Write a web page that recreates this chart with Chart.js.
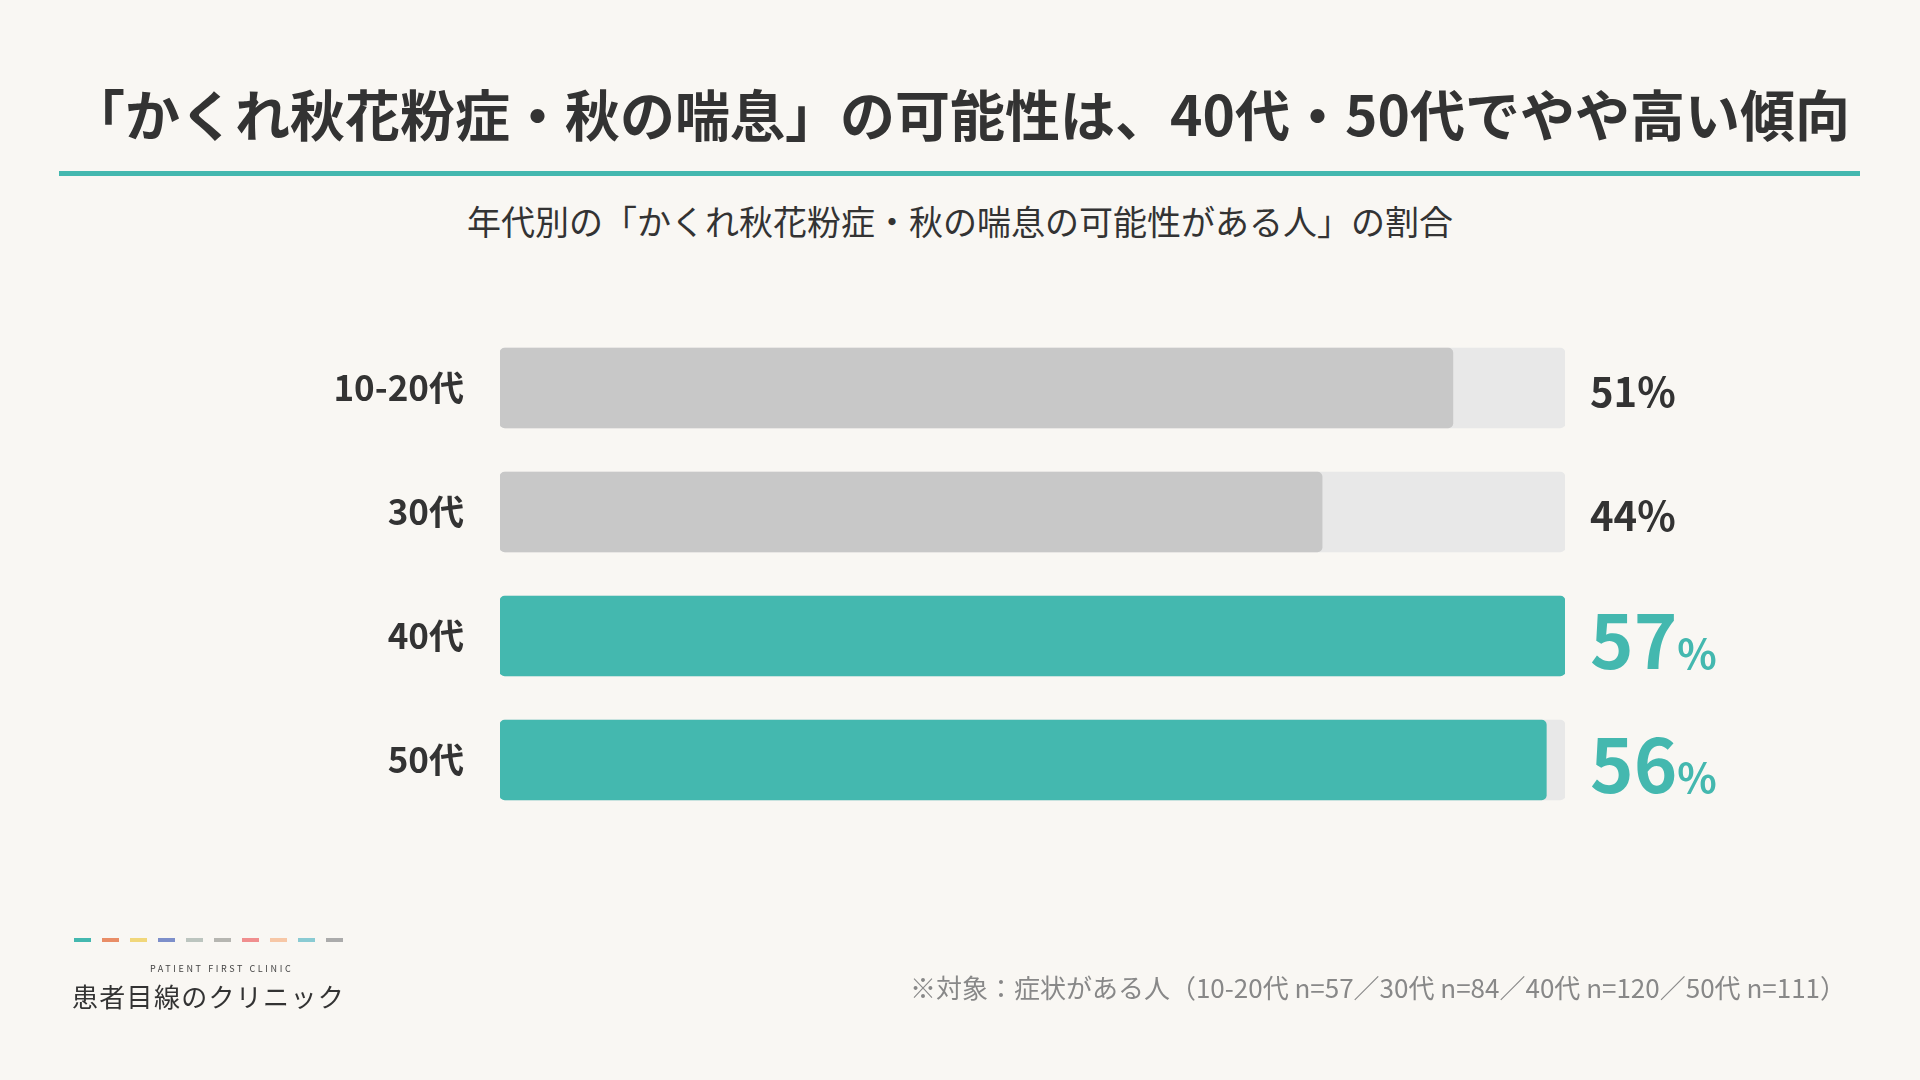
<!DOCTYPE html>
<html lang="ja">
<head>
<meta charset="utf-8">
<title>かくれ秋花粉症・秋の喘息</title>
<script src="https://cdn.jsdelivr.net/npm/chart.js@4.4.1/dist/chart.umd.min.js"></script>
<style>
  html, body { margin: 0; padding: 0; }
  body {
    width: 1920px; height: 1080px; overflow: hidden; position: relative;
    background: #f9f7f3; color: #333;
    font-family: "Noto Sans CJK JP", "Noto Sans", sans-serif;
  }
  .title {
    position: absolute; left: 0; width: 1920px; top: 80px;
    text-align: center; font-size: 55px; font-weight: 700; line-height: 64px;
  }
  .rule {
    position: absolute; left: 59px; width: 1801px; top: 171px; height: 5px;
    background: #44b8af;
  }
  .subtitle {
    position: absolute; left: 0; width: 1920px; top: 201px;
    text-align: center; font-size: 34px; line-height: 40px;
  }
  #wrap { position: absolute; left: 0; top: 0; width: 1920px; height: 1080px; }
  .note {
    position: absolute; right: 74px; top: 970px;
    font-size: 26px; line-height: 34px; color: #888;
  }
  .dashes { position: absolute; left: 74px; top: 938px; display: flex; gap: 11px; }
  .dashes span { width: 17px; height: 4px; display: block; }
  .brand-en {
    position: absolute; left: 150px; top: 963px;
    font-size: 9px; letter-spacing: 2.6px; color: #444; line-height: 12px;
  }
  .brand {
    position: absolute; left: 72px; top: 980px;
    font-size: 26px; letter-spacing: 1.3px; line-height: 32px; color: #333;
  }
</style>
</head>
<body>
<div class="title">「かくれ秋花粉症・秋の喘息」の可能性は、40代・50代でやや高い傾向</div>
<div class="rule"></div>
<div class="subtitle">年代別の「かくれ秋花粉症・秋の喘息の可能性がある人」の割合</div>
<div id="wrap"><canvas id="chart"></canvas></div>
<div class="note">※対象：症状がある人（10-20代 n=57／30代 n=84／40代 n=120／50代 n=111）</div>
<div class="dashes">
  <span style="background:#44b8af"></span>
  <span style="background:#e98d66"></span>
  <span style="background:#f1d77a"></span>
  <span style="background:#7d8fca"></span>
  <span style="background:#bcc5bf"></span>
  <span style="background:#b6b6b1"></span>
  <span style="background:#f08e8e"></span>
  <span style="background:#f7c7a6"></span>
  <span style="background:#8acbd3"></span>
  <span style="background:#ababab"></span>
</div>
<div class="brand-en">PATIENT FIRST CLINIC</div>
<div class="brand">患者目線のクリニック</div>

<script>
const categories = ['10-20代', '30代', '40代', '50代']
const values = [51, 44, 57, 56]
const highlighted = [false, false, true, true]

const teal = '#44b8af'
const grey = '#c8c8c8'
const trackColor = '#e8e8e8'
const textColor = '#333333'
const font = '"Noto Sans CJK JP", "Noto Sans", sans-serif'

const trackMax = Math.max(...values)

const barColors = highlighted.map(h => h ? teal : grey)

// percentage next to each bar, bigger and teal for the highlighted ages
const valueLabels = {
    id: 'valueLabels',
    afterDatasetsDraw(chart) {
        const ctx = chart.ctx
        const meta = chart.getDatasetMeta(0)
        const x = chart.chartArea.right + 25
        ctx.save()
        ctx.textAlign = 'left'
        ctx.textBaseline = 'alphabetic'
        meta.data.forEach((bar, i) => {
            const num = String(values[i])
            if (highlighted[i]) {
                ctx.fillStyle = teal
                ctx.font = 'bold 74px ' + font
                ctx.fillText(num, x, bar.y + 33)
                const w = ctx.measureText(num).width
                ctx.font = 'bold 41px ' + font
                ctx.fillText('%', x + w, bar.y + 33)
            } else {
                ctx.fillStyle = textColor
                ctx.font = 'bold 40px ' + font
                ctx.fillText(num + '%', x, bar.y + 19)
            }
        })
        ctx.restore()
    }
}

const data = {
    labels: categories,
    datasets: [{
        label: '割合',
        data: values,
        backgroundColor: barColors,
        borderRadius: 5,
        borderSkipped: false,
        barThickness: 80,
        order: 0
    }, {
        label: 'track',
        data: categories.map(() => trackMax),
        backgroundColor: trackColor,
        borderRadius: 5,
        borderSkipped: false,
        barThickness: 80,
        order: 1
    }]
}

const config = {
    type: 'bar',
    data: data,
    options: {
        indexAxis: 'y',
        responsive: true,
        maintainAspectRatio: false,
        animation: false,
        devicePixelRatio: 1,
        grouped: false,
        layout: {
            padding: { left: 0, right: 355, top: 326, bottom: 258 }
        },
        scales: {
            x: {
                display: false,
                min: 0,
                max: trackMax
            },
            y: {
                grid: { display: false },
                border: { display: false },
                afterFit(scale) {
                    scale.width = 500
                },
                ticks: {
                    padding: 28,
                    color: textColor,
                    font: { family: font, size: 35, weight: 'bold' }
                }
            }
        },
        plugins: {
            legend: { display: false },
            tooltip: { enabled: false }
        }
    },
    plugins: [valueLabels]
}

new Chart(document.querySelector('#chart'), config)
</script>
</body>
</html>
